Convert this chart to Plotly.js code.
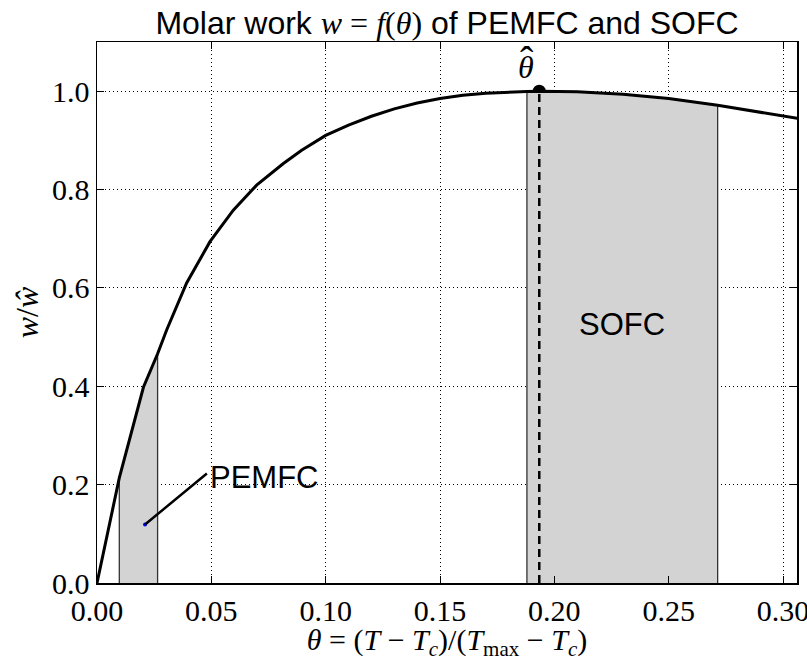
<!DOCTYPE html>
<html>
<head>
<meta charset="utf-8">
<script src="https://cdn.plot.ly/plotly-3.0.1.min.js"></script>
<style>
  html, body { margin: 0; padding: 0; background: #fff; }
  #chart { width: 807px; height: 661px; }
</style>
</head>
<body>
<div id="chart"></div>
<script>
// Curve samples: theta vs w / w_hat
const theta = [0, 0.00975, 0.0203, 0.0265, 0.0305, 0.0392, 0.0494, 0.0596, 0.0698, 0.0815, 0.0895, 0.100, 0.110, 0.120, 0.130, 0.140, 0.150, 0.160, 0.170, 0.180, 0.188, 0.1934, 0.210, 0.230, 0.250, 0.2714, 0.290, 0.3063];
const wRatio = [0, 0.2136, 0.398, 0.466, 0.515, 0.610, 0.694, 0.758, 0.809, 0.853, 0.880, 0.910, 0.931, 0.949, 0.964, 0.976, 0.985, 0.9916, 0.996, 0.9987, 0.9995, 1.0, 0.9987, 0.9938, 0.985, 0.9716, 0.958, 0.9446];

// Operating ranges
const pemfcRange = [0.00975, 0.0265];
const sofcRange = [0.188, 0.2714];
const thetaHat = 0.1934;
const wHat = 1.0;

// Labels
const xTicks = [0, 0.05, 0.10, 0.15, 0.20, 0.25, 0.30];
const yTicks = [0, 0.2, 0.4, 0.6, 0.8, 1.0];
const pemfcPoint = [0.021, 0.119];
const pemfcText = [0.0487, 0.225];
const sofcText = [0.21, 0.485];
const hatLabel = [0.1876, 1.05];

const SERIF = '"Liberation Serif", "Times New Roman", serif';
const SANS = '"Liberation Sans", Arial, sans-serif';

function region(r) {
  const xs = [r[0]], ys = [0];
  for (let i = 0; i < theta.length; i++) {
    if (theta[i] >= r[0] - 1e-9 && theta[i] <= r[1] + 1e-9) { xs.push(theta[i]); ys.push(wRatio[i]); }
  }
  xs.push(r[1]); ys.push(0);
  return {x: xs, y: ys};
}
const pem = region(pemfcRange);
const sof = region(sofcRange);

const traces = [
  {x: [thetaHat], y: [wHat], mode: 'markers', marker: {color: 'black', size: 13}, hoverinfo: 'skip', cliponaxis: false},
  {x: pem.x, y: pem.y, mode: 'lines', fill: 'toself', fillcolor: '#d3d3d3', line: {color: '#333', width: 1.3}, hoverinfo: 'skip'},
  {x: sof.x, y: sof.y, mode: 'lines', fill: 'toself', fillcolor: '#d3d3d3', line: {color: '#333', width: 1.3}, hoverinfo: 'skip'},
  {x: [thetaHat, thetaHat], y: [0, wHat], mode: 'lines', line: {color: 'black', width: 2.5, dash: '8px,5px'}, hoverinfo: 'skip'},
  {x: theta, y: wRatio, mode: 'lines', line: {color: 'black', width: 3}, hoverinfo: 'skip'},
  {x: [pemfcPoint[0]], y: [pemfcPoint[1]], mode: 'markers', marker: {color: 'blue', size: 4}, hoverinfo: 'skip'}
];

const layout = {
  width: 807, height: 661,
  margin: {l: 97, r: 10, t: 42, b: 78},
  paper_bgcolor: 'white', plot_bgcolor: 'white',
  showlegend: false,
  title: {
    text: 'Molar work <span style="font-family:Liberation Serif"><i>w</i> = <i>f</i>(<i>θ</i>)</span> of PEMFC and SOFC',
    x: 0.5, xref: 'paper', xanchor: 'center',
    y: 0.966, yref: 'container', yanchor: 'middle',
    font: {family: SANS, size: 32, color: 'black'}
  },
  xaxis: {
    range: [0, 0.3061], tickvals: xTicks, tickformat: '.2f',
    ticks: 'inside', ticklen: 7, tickwidth: 1, tickcolor: 'black',
    showline: true, linecolor: 'black', linewidth: 1.5, mirror: 'ticks',
    showgrid: true, gridcolor: 'black', gridwidth: 1, griddash: '1px,3px',
    zeroline: false, ticklabeloverflow: 'allow',
    tickfont: {family: SERIF, size: 30, color: 'black'},
    title: {text: '<i>θ</i> = (<i>T</i> − <i>T</i><sub><i>c</i></sub>)/(<i>T</i><sub>max</sub> − <i>T</i><sub><i>c</i></sub>)', font: {family: SERIF, size: 30, color: 'black'}, standoff: 0}
  },
  yaxis: {
    range: [0, 1.1], tickvals: yTicks, tickformat: '.1f',
    ticks: 'inside', ticklen: 7, tickwidth: 1, tickcolor: 'black',
    showline: true, linecolor: 'black', linewidth: 1.5, mirror: 'ticks',
    showgrid: true, gridcolor: 'black', gridwidth: 1, griddash: '1px,3px',
    zeroline: false,
    tickfont: {family: SERIF, size: 30, color: 'black'},
    title: {text: '<i>w</i>/<i>ŵ</i>', font: {family: SERIF, size: 32, color: 'black'}, standoff: 4}
  },
  annotations: [
    {x: hatLabel[0], y: hatLabel[1], xref: 'x', yref: 'y', text: '<i>θ</i>', showarrow: false,
     font: {family: SERIF, size: 32, color: 'black'}, xanchor: 'center', yanchor: 'middle'},
    {x: hatLabel[0], y: hatLabel[1], xref: 'x', yref: 'y', text: 'ˆ', showarrow: false,
     font: {family: SERIF, size: 40, color: 'black'}, xanchor: 'center', yanchor: 'middle', xshift: 1, yshift: 6},
    {x: sofcText[0], y: sofcText[1], xref: 'x', yref: 'y', text: 'SOFC', showarrow: false,
     font: {family: SANS, size: 31, color: 'black'}, xanchor: 'left', yanchor: 'bottom'},
    {x: pemfcText[0], y: pemfcText[1], xref: 'x', yref: 'y', text: 'PEMFC', showarrow: false,
     font: {family: SANS, size: 31, color: 'black'}, xanchor: 'left', yanchor: 'middle', yshift: -5},
    {x: pemfcPoint[0], y: pemfcPoint[1], xref: 'x', yref: 'y', ax: pemfcText[0], ay: pemfcText[1], axref: 'x', ayref: 'y',
     text: '', showarrow: true, arrowhead: 0, arrowwidth: 2.5, arrowcolor: 'black', standoff: 0}
  ]
};

Plotly.newPlot('chart', traces, layout, {displayModeBar: false, staticPlot: true});
</script>
</body>
</html>
